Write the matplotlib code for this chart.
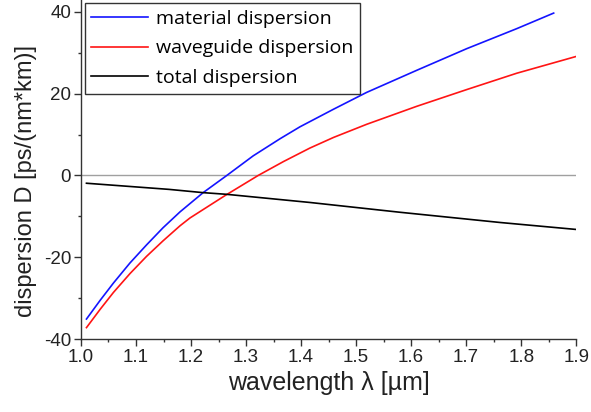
import numpy as np
import matplotlib.pyplot as plt
from matplotlib.ticker import MultipleLocator

plt.rcParams['axes.unicode_minus'] = False

# values
wl_material = [1.010, 1.035, 1.059, 1.089, 1.119, 1.149, 1.180, 1.222, 1.265, 1.313,
               1.362, 1.398, 1.459, 1.519, 1.610, 1.701, 1.792, 1.859]
d_material = [-35.1, -30.5, -26.3, -21.4, -17.0, -12.8, -8.9, -4.2, 0.0, 4.8,
              9.0, 11.9, 16.2, 20.3, 25.7, 31.0, 35.9, 39.7]

wl_waveguide = [1.010, 1.035, 1.059, 1.089, 1.119, 1.149, 1.180, 1.198, 1.262, 1.322,
                1.368, 1.416, 1.459, 1.519, 1.610, 1.701, 1.792, 1.900]
d_waveguide = [-37.2, -32.7, -28.6, -24.0, -19.8, -16.0, -12.3, -10.4, -4.9, 0.0,
               3.4, 6.7, 9.3, 12.5, 16.9, 21.0, 25.0, 29.1]

wl_total = [1.010, 1.160, 1.222, 1.264, 1.416, 1.580, 1.762, 1.900]
d_total = [-1.9, -3.4, -4.2, -4.6, -6.6, -9.0, -11.5, -13.2]

tick_font = 'Liberation Sans'
legend_font = ['Open Sans', 'DejaVu Sans']
ink = '#222222'

fig = plt.figure(figsize=(5.91, 4.12), dpi=100)
ax = fig.add_axes([0.137, 0.177, 0.838, 0.823])

ax.axhline(0, color='#a0a0a0', lw=1.0, zorder=1)
ax.plot(wl_material, d_material, color='#1414ff', lw=1.2, label='material dispersion')
ax.plot(wl_waveguide, d_waveguide, color='#ff1414', lw=1.2, label='waveguide dispersion')
ax.plot(wl_total, d_total, color='black', lw=1.2, label='total dispersion')

ax.set_xlim(1.0, 1.9)
ax.set_ylim(-40, 42.9)
ax.xaxis.set_minor_locator(MultipleLocator(0.05))
ax.yaxis.set_minor_locator(MultipleLocator(10))
xt = np.round(np.arange(1.0, 1.91, 0.1), 1)
ax.set_xticks(xt)
ax.set_xticklabels([f'{v:.1f}' for v in xt])
ax.set_yticks([-40, -20, 0, 20, 40])

for s in ['top', 'right']:
    ax.spines[s].set_visible(False)
for s in ['left', 'bottom']:
    ax.spines[s].set_linewidth(1.0)
    ax.spines[s].set_color('#333333')

ax.tick_params(which='major', direction='out', length=5, width=1.0, color='#333333',
               labelsize=13.5, pad=2)
ax.tick_params(which='minor', direction='out', length=2.5, width=1.0, color='#333333')
for lab in ax.get_xticklabels() + ax.get_yticklabels():
    lab.set_fontfamily(tick_font)
    lab.set_color(ink)

ax.set_xlabel('wavelength λ [µm]', fontsize=18, fontfamily=tick_font, color=ink, labelpad=4)
ax.set_ylabel('dispersion D [ps/(nm*km)]', fontsize=17, fontfamily=tick_font, color=ink)
ax.yaxis.set_label_coords(-0.089, 0.466)

leg = ax.legend(loc='upper left', bbox_to_anchor=(0.008, 0.99), prop={'family': legend_font, 'size': 14},
                frameon=True, fancybox=False, edgecolor='#333333', framealpha=1,
                handlelength=2.9, handletextpad=0.45, borderpad=0.33, labelspacing=0.6,
                borderaxespad=0.0)
leg.get_frame().set_linewidth(1.0)

fig.savefig('out.png', dpi=100)
